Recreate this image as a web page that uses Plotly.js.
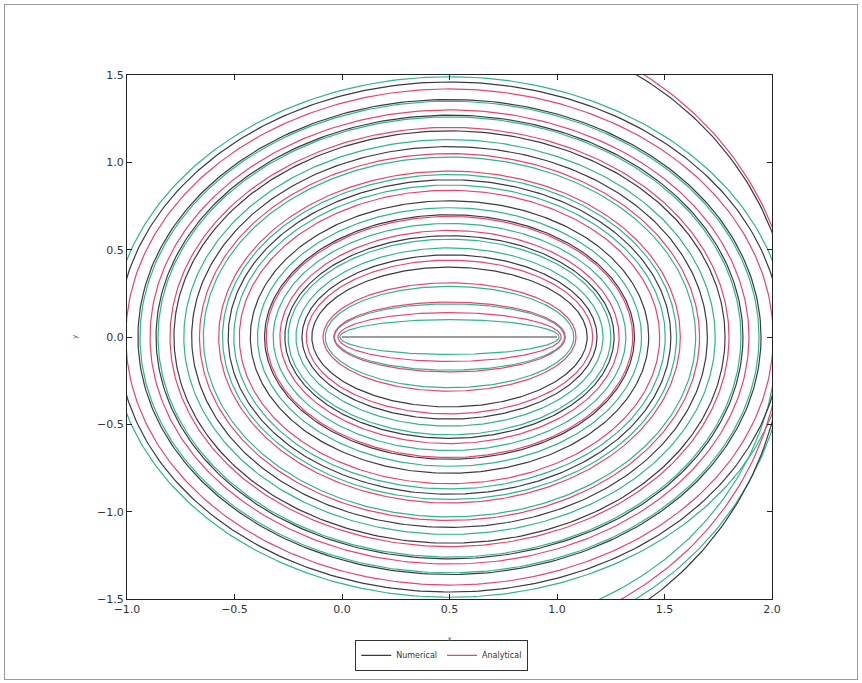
<!DOCTYPE html>
<html>
<head>
<meta charset="utf-8">
<script src="https://cdn.plot.ly/plotly-3.0.1.min.js"></script>
<style>
  html, body { margin: 0; padding: 0; background: #fff; }
  #wrap { position: relative; width: 862px; height: 683px; }
  #chart { position: absolute; left: 0; top: 0; width: 862px; height: 683px; }
  #frame { position: absolute; left: 4px; top: 4px; width: 852px; height: 674px;
           border: 1px solid #9a9a9a; pointer-events: none; }
</style>
</head>
<body>
<div id="wrap">
  <div id="chart"></div>
  <div id="frame"></div>
</div>
<script>
// Foci of the confocal family at x = 0 and x = 1
const focusLeft = 0.0;
const focusRight = 1.0;

// Semi-minor axes (read at x = 0.5) of each closed curve, per colour
const blackB = [0.0, 0.40, 0.47, 0.58, 0.70, 0.78, 0.90, 1.09, 1.18, 1.27, 1.36, 1.46];
const redB   = [0.14, 0.20, 0.31, 0.44, 0.61, 0.69, 0.84, 0.95, 1.05, 1.20, 1.30, 1.42];
const greenB = [0.10, 0.19, 0.29, 0.51, 0.56, 0.65, 0.74, 0.87, 0.93, 1.03, 1.13, 1.26, 1.35, 1.49];

// Outer spiral arms leaving the frame (semi-axes and angle span in degrees)
const armA     = [1.592, 1.60, 1.554, 1.541, 1.524, 1.57];
const armB     = [1.793, 1.82, 1.872, 1.755, 1.689, 1.80];
const armStart = [0, 0, 270, 270, 270, 270];
const armEnd   = [90, 90, 360, 360, 360, 360];
const armColor = ['black', 'red', 'black', 'red', 'green', 'green'];

// Axis ticks
const xTicks = [-1.0, -0.5, 0.0, 0.5, 1.0, 1.5, 2.0];
const xTickText = ['\u22121.0', '\u22120.5', '0.0', '0.5', '1.0', '1.5', '2.0'];
const yTicks = [-1.5, -1.0, -0.5, 0.0, 0.5, 1.0, 1.5];
const yTickText = ['\u22121.5', '\u22121.0', '\u22120.5', '0.0', '0.5', '1.0', '1.5'];

const legendNames = ['Numerical', 'Analytical'];

const COLORS = { black: '#3b3b3b', red: '#e8456a', green: '#2fb58e' };

const cx = (focusLeft + focusRight) / 2;
const c = (focusRight - focusLeft) / 2;

function ellipseFamily(bs) {
  const xs = [], ys = [];
  bs.forEach(b => {
    const a = Math.sqrt(b * b + c * c);
    for (let k = 0; k <= 360; k++) {
      const t = k * Math.PI / 180;
      xs.push(cx + a * Math.cos(t));
      ys.push(b * Math.sin(t));
    }
    xs.push(null); ys.push(null);
  });
  return { xs, ys };
}

function arms(colorKey) {
  const xs = [], ys = [];
  for (let i = 0; i < armA.length; i++) {
    if (armColor[i] !== colorKey) continue;
    for (let d = armStart[i]; d <= armEnd[i]; d += 1) {
      const t = d * Math.PI / 180;
      xs.push(cx + armA[i] * Math.cos(t));
      ys.push(armB[i] * Math.sin(t));
    }
    xs.push(null); ys.push(null);
  }
  return { xs, ys };
}

const traces = [];
[['green', greenB], ['red', redB], ['black', blackB]].forEach(([key, bs]) => {
  const e = ellipseFamily(bs);
  const r = arms(key);
  traces.push({
    x: e.xs.concat(r.xs), y: e.ys.concat(r.ys),
    mode: 'lines', type: 'scatter',
    line: { color: COLORS[key], width: 1.2 },
    showlegend: false, hoverinfo: 'skip'
  });
});
// Legend entries
traces.push({ x: [null], y: [null], mode: 'lines', type: 'scatter', name: legendNames[0],
  line: { color: COLORS.black, width: 1.2 } });
traces.push({ x: [null], y: [null], mode: 'lines', type: 'scatter', name: legendNames[1],
  line: { color: COLORS.red, width: 1.2 } });

const axisCommon = {
  showgrid: false, zeroline: false,
  showline: true, linecolor: '#222', linewidth: 1, mirror: 'ticks',
  ticks: 'inside', ticklen: 5, tickwidth: 1, tickcolor: '#222',
  tickfont: { family: 'DejaVu Sans, sans-serif', size: 11, color: '#333' }
};

const layout = {
  width: 862, height: 683,
  margin: { l: 127, r: 90, t: 75, b: 75 },
  paper_bgcolor: '#fff', plot_bgcolor: '#fff',
  xaxis: Object.assign({}, axisCommon, {
    range: [-1.0, 2.0], tickvals: xTicks, ticktext: xTickText,
    title: { text: 'x', font: { family: 'DejaVu Sans, sans-serif', size: 7, color: '#555' }, standoff: 20 }
  }),
  yaxis: Object.assign({}, axisCommon, {
    range: [-1.5, 1.5], tickvals: yTicks, ticktext: yTickText,
    title: { text: 'y', font: { family: 'DejaVu Sans, sans-serif', size: 7, color: '#555' }, standoff: 18 }
  }),
  showlegend: true,
  legend: {
    orientation: 'h', x: 0.488, xanchor: 'center', y: -0.078, yanchor: 'top',
    bordercolor: '#333', borderwidth: 1, bgcolor: '#fff',
    font: { family: 'DejaVu Sans, sans-serif', size: 8, color: '#333' },
    itemwidth: 30
  }
};

Plotly.newPlot('chart', traces, layout, { staticPlot: true, displayModeBar: false });
</script>
</body>
</html>
